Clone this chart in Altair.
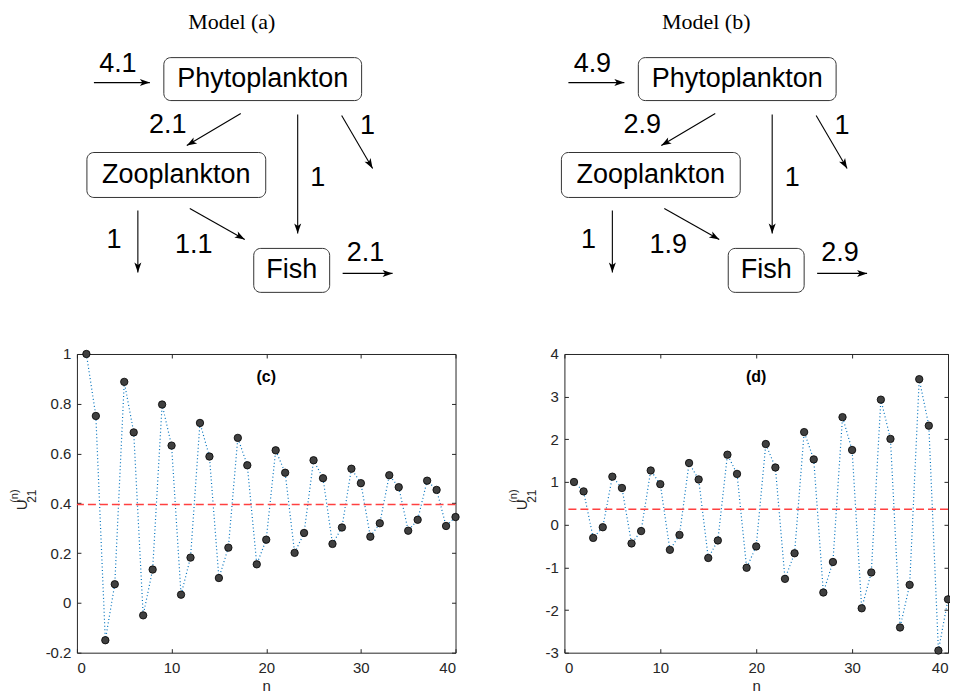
import math
import altair as alt
import pandas as pd

# ---------------- data ----------------
N = list(range(1, 41))
U_C = [1.0, 0.751, -0.150, 0.075, 0.888, 0.685, -0.050, 0.134, 0.797, 0.632,
       0.033, 0.182, 0.723, 0.588, 0.100, 0.222, 0.663, 0.553, 0.155, 0.254,
       0.613, 0.523, 0.201, 0.281, 0.573, 0.501, 0.237, 0.303, 0.539, 0.481,
       0.266, 0.320, 0.513, 0.465, 0.290, 0.334, 0.491, 0.454, 0.309, 0.345]
U_D = [1.0, 0.78, -0.31, -0.06, 1.125, 0.86, -0.44, -0.15, 1.27, 0.95,
       -0.59, -0.24, 1.445, 1.06, -0.78, -0.37, 1.64, 1.19, -1.01, -0.51,
       1.89, 1.34, -1.27, -0.67, 2.17, 1.53, -1.59, -0.875, 2.52, 1.75,
       -1.96, -1.12, 2.93, 2.01, -2.41, -1.41, 3.41, 2.32, -2.95, -1.75]
EQ_C = 0.395
EQ_D = 0.36
Y_TICKS_C = [-0.2, 0, 0.2, 0.4, 0.6, 0.8, 1]
Y_TICKS_D = [-3, -2, -1, 0, 1, 2, 3, 4]
X_TICKS = [0, 10, 20, 30, 40]
PANEL_TAGS = ["(c)", "(d)"]
X_TITLE = "n"

MODEL_TITLES = ["Model (a)", "Model (b)"]
NODES = ["Phytoplankton", "Zooplankton", "Fish"]
FLOWS = ["in", "P-Z", "P-F", "P-out", "Z-out", "Z-F", "F-out"]
FLOW_A = ["4.1", "2.1", "1", "1", "1", "1.1", "2.1"]
FLOW_B = ["4.9", "2.9", "1", "1", "1", "1.9", "2.9"]

# ---------------- layout (page pixels of the reference) ----------------
PLOT_TOP = 353.7
PH = 299
PANEL_X0 = [77, 568]
PANEL_W = [379, 384]
OFFSET_B = 478
TITLE_XY = (232, 21)
BOX = {
    "Phytoplankton": (164, 57, 362, 100),
    "Zooplankton": (87, 152, 266, 197),
    "Fish": (254, 248, 330, 292),
}
ARROW = {
    "in": (94, 82, 150, 82),
    "P-Z": (241, 113, 187, 145),
    "P-F": (298, 114, 298, 233),
    "P-out": (342, 115, 373, 168),
    "Z-out": (138, 210, 138, 272),
    "Z-F": (190, 208, 245, 239),
    "F-out": (343, 273, 393, 273),
}
LABEL_XY = {
    "in": (118, 63), "P-Z": (168, 124), "P-F": (318, 178), "P-out": (368, 125),
    "Z-out": (114, 240), "Z-F": (194, 245), "F-out": (366, 253),
}
ARROW_PATH = "M0,0L-2,-0.7L-1.5,0L-2,0.7Z"
ULAB = [(-55.3, -45.3, -62.0), (-42.3, -32.3, -50.0)]  # x offsets of U, 21, (n)

LAB_EXPR = "datum.value < 0 ? '-' + format(-datum.value, '~g') : format(datum.value, '~g')"


def diagram(m):
    dx = OFFSET_B * m
    labels = [FLOW_A, FLOW_B][m]
    brow, arow = [], []
    for node in NODES:
        x1, y1, x2, y2 = BOX[node]
        brow.append({"node": node, "x1": x1 + dx, "y1": y1, "x2": x2 + dx, "y2": y2,
                     "cx": (x1 + x2) / 2 + dx, "cy": (y1 + y2) / 2})
    for f, lab in zip(FLOWS, labels):
        ax1, ay1, ax2, ay2 = ARROW[f]
        ang = math.degrees(math.atan2(ay2 - ay1, ax2 - ax1)) % 360
        lx, ly = LABEL_XY[f]
        arow.append({"lab": lab, "ax1": ax1 + dx, "ay1": ay1, "ax2": ax2 + dx, "ay2": ay2,
                     "ang": ang, "lx": lx + dx, "ly": ly})
    boxes = pd.DataFrame(brow)
    arrows = pd.DataFrame(arow)
    titles = pd.DataFrame([{"t": MODEL_TITLES[m], "x": TITLE_XY[0] + dx, "y": TITLE_XY[1]}])

    x0, w = PANEL_X0[m], PANEL_W[m]
    xs = alt.Scale(domain=[x0, x0 + w], range=[0, w], nice=False, zero=False)
    ys = alt.Scale(domain=[0, PLOT_TOP], range=[-PLOT_TOP, 0], nice=False, zero=False)

    def DX(f):
        return alt.X(f, type="quantitative", scale=xs, axis=None)

    def DY(f):
        return alt.Y(f, type="quantitative", scale=ys, axis=None)

    rects = alt.Chart(boxes).mark_rect(cornerRadius=7, fill="white", stroke="#333333",
                                       strokeWidth=1).encode(x=DX("x1"), x2="x2:Q", y=DY("y1"), y2="y2:Q")
    node_text = alt.Chart(boxes).mark_text(font="Liberation Sans", fontSize=27, color="black").encode(
        x=DX("cx"), y=DY("cy"), text="node:N")
    shafts = alt.Chart(arrows).mark_rule(color="black", strokeWidth=1.1).encode(
        x=DX("ax1"), y=DY("ay1"), x2="ax2:Q", y2="ay2:Q")
    heads = alt.Chart(arrows).mark_point(shape=ARROW_PATH, filled=True, color="black", opacity=1,
                                         size=100, strokeWidth=0).encode(
        x=DX("ax2"), y=DY("ay2"), angle=alt.Angle("ang:Q", scale=None))
    flow_text = alt.Chart(arrows).mark_text(font="Liberation Sans", fontSize=27, color="black").encode(
        x=DX("lx"), y=DY("ly"), text="lab:N")
    title_text = alt.Chart(titles).mark_text(font="Liberation Serif", fontSize=22, color="black").encode(
        x=DX("x"), y=DY("y"), text="t:N")
    return alt.layer(rects, node_text, shafts, heads, flow_text, title_text)


def panel(m, values, eq, yticks):
    width = PANEL_W[m]
    ux, sx, px = ULAB[m]
    df = pd.DataFrame({"n": N, "u": values})
    x = alt.X("n:Q", scale=alt.Scale(domain=[X_TICKS[0], X_TICKS[-1]], nice=False, zero=False),
              axis=alt.Axis(values=X_TICKS, title=X_TITLE, grid=True, gridDash=[4, PH - 8, 4],
                            ticks=False, domain=False, labelPadding=8, titlePadding=3,
                            labelExpr=LAB_EXPR))
    y = alt.Y("u:Q", scale=alt.Scale(domain=[yticks[0], yticks[-1]], nice=False, zero=False),
              axis=alt.Axis(values=yticks, title=None, grid=True, gridDash=[4, width - 8, 4],
                            ticks=False, domain=False, labelPadding=6, labelExpr=LAB_EXPR))
    line = alt.Chart(df).mark_line(color="#0072BD", strokeDash=[1, 2.5], strokeWidth=1.2).encode(
        x=x, y=y, order="n:Q")
    pts = alt.Chart(df).mark_point(filled=True, shape="circle", size=55, fill="#404040",
                                   stroke="black", strokeWidth=0.8, opacity=1).encode(x=x, y=y)
    rule = alt.Chart(pd.DataFrame({"u": [eq]})).mark_rule(
        color="#FF4040", strokeDash=[8, 4], strokeWidth=1.5).encode(y=y)
    tag_t = alt.Chart(pd.DataFrame({"t": [PANEL_TAGS[m]]})).mark_text(
        font="Liberation Sans", fontSize=16, fontWeight="bold", color="black").encode(
        x=alt.value(width / 2), y=alt.value(23), text="t:N")
    u_main = alt.Chart(pd.DataFrame({"t": ["U"]})).mark_text(
        font="Liberation Sans", fontSize=15, color="#262626", angle=270).encode(
        x=alt.value(ux), y=alt.value(151), text="t:N")
    u_sub = alt.Chart(pd.DataFrame({"t": ["21"]})).mark_text(
        font="Liberation Sans", fontSize=12, color="#262626", angle=270).encode(
        x=alt.value(sx), y=alt.value(142.3), text="t:N")
    u_sup = alt.Chart(pd.DataFrame({"t": ["(n)"]})).mark_text(
        font="Liberation Sans", fontSize=11, color="#262626", angle=270).encode(
        x=alt.value(px), y=alt.value(142.3), text="t:N")
    plot = alt.layer(line, rule, pts, tag_t, u_main, u_sub, u_sup)
    return alt.layer(plot, diagram(m)).resolve_scale(
        x="independent", y="independent").properties(width=width, height=PH)


pc = panel(0, U_C, EQ_C, Y_TICKS_C)
pd_ = panel(1, U_D, EQ_D, Y_TICKS_D)

chart = alt.hconcat(pc, pd_, spacing=46,
                    padding={"left": 0, "top": 1, "right": -4, "bottom": 0}).configure_axis(
    labelFont="Liberation Sans", labelFontSize=15, labelColor="#262626",
    titleFont="Liberation Sans", titleFontSize=15, titleColor="#262626", titleFontWeight="normal",
    gridColor="#262626", gridOpacity=1, gridWidth=1,
).configure_view(stroke="#262626", strokeWidth=1)

chart.save("out.html", embed_options={"renderer": "svg", "actions": False})
